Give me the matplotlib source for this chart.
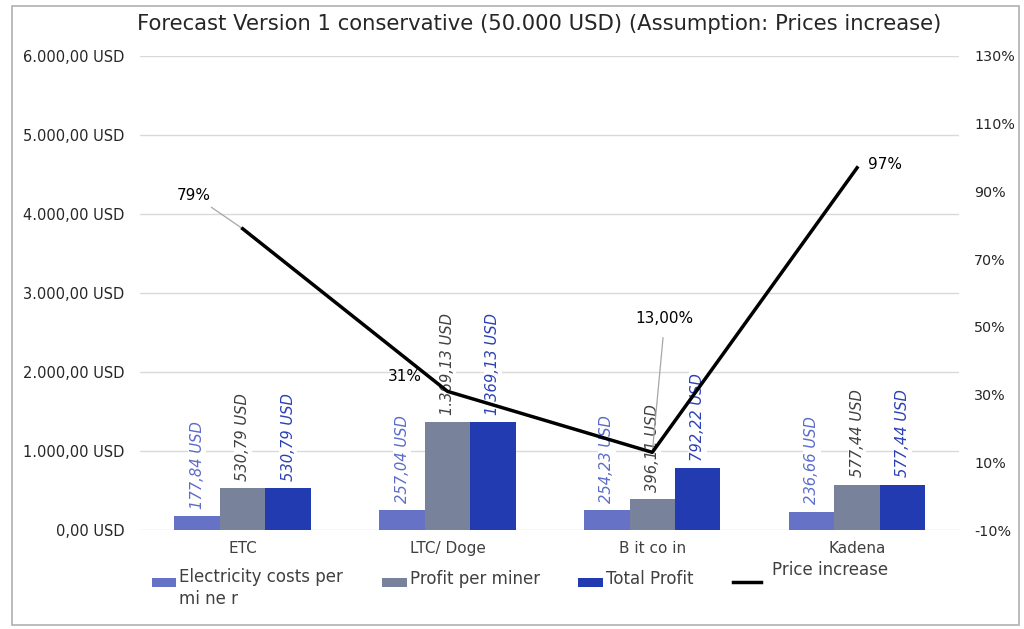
"""Forecast version 1 conservative: bars per coin plus price increase line."""

import matplotlib

matplotlib.use("Agg")

import matplotlib.pyplot as plt
import numpy as np
from matplotlib.lines import Line2D
from matplotlib.patches import Rectangle

plt.rcParams["font.family"] = ["DejaVu Sans"]

categories = ["ETC", "LTC/ Doge", "B it co in", "Kadena"]
electricity = [177.84, 257.04, 254.23, 236.66]
profit_per_miner = [530.79, 1369.13, 396.11, 577.44]
total_profit = [530.79, 1369.13, 792.22, 577.44]
price_increase = [79, 31, 13, 97]
price_labels = ["79%", "31%", "13,00%", "97%"]
legend_labels = ["Electricity costs per\nmi ne r", "Profit per miner", "Total Profit", "Price increase"]

left_ticks = [0, 1000, 2000, 3000, 4000, 5000, 6000]
right_ticks = [-10, 10, 30, 50, 70, 90, 110, 130]

c_elec = "#6672c5"
c_profit = "#78829a"
c_total = "#233bb0"
c_elec_txt = "#5b6cc9"
c_profit_txt = "#404040"
c_total_txt = "#2a40b5"

W, H = 1024, 629


def usd(value: float) -> str:
    s = f"{value:,.2f}"
    return s.replace(",", "X").replace(".", ",").replace("X", ".") + " USD"


def fx(px: float) -> float:
    return px / W


def fy(py: float) -> float:
    return 1 - py / H


fig = plt.figure(figsize=(10.24, 6.29), dpi=100)
fig.patches.append(Rectangle((0.012, 0.006), 0.983, 0.985, transform=fig.transFigure,
                             fill=False, edgecolor="#b0b0b0", linewidth=1.2))
ax = fig.add_axes([0.137, 0.157, 0.8, 0.754])

x = np.arange(len(categories))
width = 0.222
series = [
    (electricity, c_elec, c_elec_txt, -width),
    (profit_per_miner, c_profit, c_profit_txt, 0.0),
    (total_profit, c_total, c_total_txt, width),
]
for values, color, txt_color, offset in series:
    ax.bar(x + offset, values, width=width, color=color, zorder=2)
    for xi, v in zip(x, values):
        ax.text(xi + offset, v + 90, usd(v), rotation=90, ha="center", va="bottom",
                fontsize=10.6, style="italic", color=txt_color, zorder=3,
                bbox=dict(boxstyle="square,pad=0.1", facecolor="white", edgecolor="none"))

ax.set_xlim(-0.5, len(categories) - 0.5)
ax.set_ylim(0, 6000)
ax.set_yticks(left_ticks)
ax.set_yticklabels([usd(t) for t in left_ticks])
ax.set_xticks(x)
ax.set_xticklabels(categories)
ax.tick_params(axis="y", length=0, pad=11.5, labelsize=10.5, colors="#262626")
ax.tick_params(axis="x", length=0, pad=8, labelsize=11, colors="#404040")
ax.grid(axis="y", color="#d9d9d9", linewidth=1, zorder=0)
ax.set_axisbelow(True)
for spine in ax.spines.values():
    spine.set_visible(False)

ax2 = ax.twinx()
ax2.plot(x, price_increase, color="black", linewidth=2.5, zorder=5)
ax2.set_ylim(-10, 130)
ax2.set_yticks(right_ticks)
ax2.set_yticklabels([f"{t}%" for t in right_ticks])
ax2.tick_params(axis="y", length=0, pad=10.5, labelsize=10.3, colors="#262626")
for spine in ax2.spines.values():
    spine.set_visible(False)

leader = dict(arrowstyle="-", color="#a6a6a6", linewidth=0.9, shrinkA=2, shrinkB=0)
ax2.annotate(price_labels[0], xy=(x[0], price_increase[0]), xytext=(-35, 24),
             textcoords="offset points", fontsize=11, ha="center", va="center",
             arrowprops=leader)
ax2.annotate(price_labels[1], xy=(x[1], price_increase[1]), xytext=(-31, 11),
             textcoords="offset points", fontsize=11, ha="center", va="center")
ax2.annotate(price_labels[2], xy=(x[2], price_increase[2]), xytext=(9, 96),
             textcoords="offset points", fontsize=11, ha="center", va="center",
             arrowprops=dict(leader, shrinkA=6))
ax2.annotate(price_labels[3], xy=(x[3], price_increase[3]), xytext=(20, 2),
             textcoords="offset points", fontsize=11, ha="center", va="center")

fig.text(fx(539), fy(24), "Forecast Version 1 conservative (50.000 USD) (Assumption: Prices increase)",
         ha="center", va="center", fontsize=15.2, color="#262626")

# legend, laid out by hand like the source
legend_color = "#404040"
for x0, x1, color in [(152, 176, c_elec), (382, 407, c_profit), (578, 603, c_total)]:
    fig.patches.append(Rectangle((fx(x0), fy(587)), fx(x1) - fx(x0), fy(578) - fy(587),
                                 transform=fig.transFigure, facecolor=color, edgecolor="none"))
fig.text(fx(179), fy(568), legend_labels[0], ha="left", va="top", fontsize=12,
         color=legend_color, linespacing=1.32)
fig.text(fx(410), fy(579), legend_labels[1], ha="left", va="center", fontsize=12, color=legend_color)
fig.text(fx(606), fy(579), legend_labels[2], ha="left", va="center", fontsize=12, color=legend_color)
fig.lines.append(Line2D([fx(733), fx(761)], [fy(582), fy(582)], transform=fig.transFigure,
                        color="black", linewidth=2.5))
fig.text(fx(772), fy(570), legend_labels[3], ha="left", va="center", fontsize=12, color=legend_color)

fig.savefig("out.png", dpi=100)
